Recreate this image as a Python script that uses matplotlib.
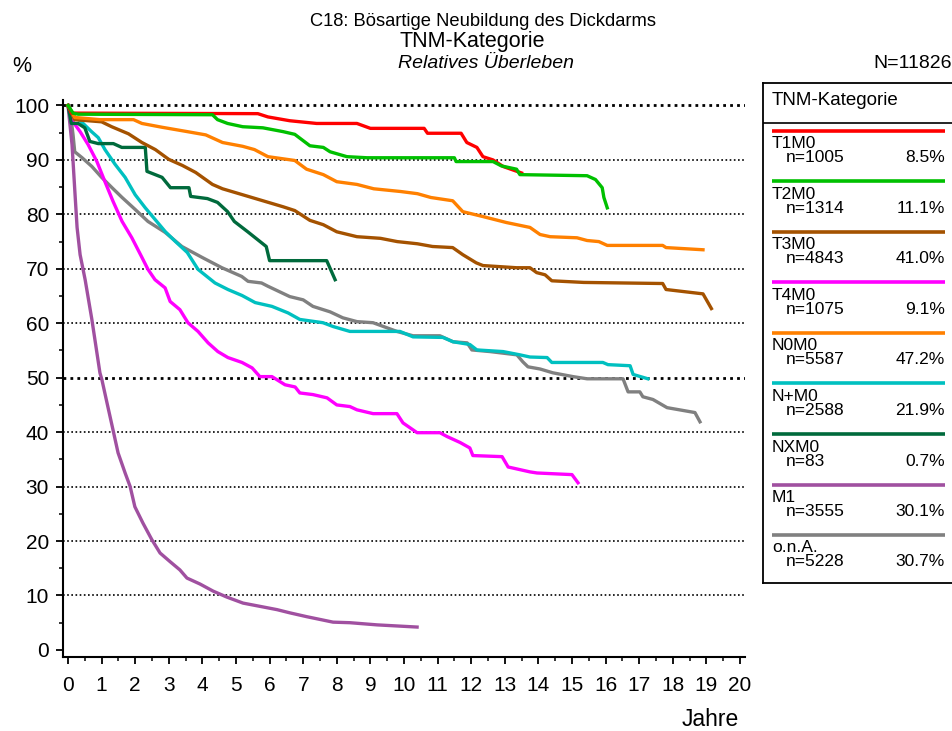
import matplotlib
matplotlib.use("Agg")
import matplotlib.pyplot as plt
from matplotlib.ticker import MultipleLocator

plt.rcParams['font.family'] = ['Liberation Sans', 'DejaVu Sans']

# Relatives Überleben nach TNM-Kategorie (Jahre, Prozent)
t1m0_x = [0, 0.1, 5.65, 5.95, 6.6, 7.4, 8.6, 9.0, 10.6, 10.7, 11.7, 11.87, 12.17, 12.35, 12.65, 12.95, 13.5]
t1m0_y = [100, 98.6, 98.5, 97.9, 97.2, 96.7, 96.7, 95.8, 95.8, 94.9, 94.9, 93.2, 92.3, 90.6, 90.0, 88.8, 87.6]

t2m0_x = [0, 0.15, 0.3, 4.3, 4.45, 4.75, 5.2, 5.8, 6.4, 6.75, 7.2, 7.6, 7.8, 8.3, 8.9, 11.5, 11.55,
          12.65, 12.9, 13.35, 13.45, 15.45, 15.7, 15.9, 15.95, 16.05]
t2m0_y = [100, 98.6, 98.4, 98.3, 97.4, 96.7, 96.1, 95.9, 95.2, 94.7, 92.6, 92.3, 91.5, 90.6, 90.4, 90.4, 89.7,
          89.7, 88.9, 88.3, 87.3, 87.1, 86.4, 84.9, 83.1, 81.2]

t3m0_x = [0, 0.2, 1.0, 1.3, 1.8, 2.2, 2.6, 3.0, 3.4, 3.8, 4.3, 4.6, 5.2, 5.8, 6.4, 6.75, 7.2, 7.6, 8.0,
          8.6, 9.3, 9.8, 10.4, 10.85, 11.45, 11.75, 12.15, 12.35, 13.35, 13.75, 13.95, 14.2, 14.4, 15.35,
          17.7, 17.8, 18.9, 19.15]
t3m0_y = [100, 97.4, 97.0, 96.1, 94.8, 93.2, 91.9, 90.1, 89.0, 87.7, 85.5, 84.7, 83.6, 82.5, 81.4, 80.7, 78.9, 78.1, 76.8,
          75.9, 75.6, 75.0, 74.6, 74.1, 73.9, 72.6, 71.1, 70.6, 70.2, 70.2, 69.3, 68.9, 67.8, 67.5,
          67.3, 66.2, 65.4, 62.7]

t4m0_x = [0, 0.15, 0.36, 0.6, 0.86, 1.1, 1.34, 1.61, 1.9, 2.2, 2.38, 2.59, 2.89, 3.04, 3.33, 3.57, 3.87,
          4.17, 4.46, 4.76, 5.18, 5.48, 5.71, 6.07, 6.46, 6.76, 6.9, 7.29, 7.71, 8.0, 8.39, 8.6, 9.08,
          9.79, 9.97, 10.39, 11.07, 11.28, 11.67, 11.96, 12.05, 12.92, 13.1, 13.75, 13.96, 15.0, 15.18]
t4m0_y = [100, 97.0, 95.2, 92.8, 89.7, 86.0, 82.4, 78.7, 75.7, 72.1, 69.9, 68.0, 66.5, 64.0, 62.5, 60.1, 58.5,
          56.4, 54.8, 53.7, 52.8, 51.8, 50.2, 50.2, 48.7, 48.3, 47.2, 46.9, 46.3, 45.0, 44.7, 44.1, 43.4,
          43.4, 41.7, 39.9, 39.9, 39.2, 38.1, 37.1, 35.7, 35.5, 33.6, 32.7, 32.5, 32.2, 30.7]

n0m0_x = [0, 0.2, 0.95, 1.95, 2.2, 2.8, 3.55, 4.1, 4.6, 5.2, 5.55, 5.95, 6.75, 7.1, 7.6, 8.0, 8.6, 9.1,
          9.9, 10.4, 10.8, 11.45, 11.75, 12.35, 13.05, 13.75, 14.05, 14.35, 15.15, 15.45, 15.8, 16.05,
          17.7, 17.8, 18.9]
n0m0_y = [100, 97.8, 97.4, 97.4, 96.7, 96.0, 95.2, 94.6, 93.2, 92.5, 91.9, 90.6, 89.9, 88.3, 87.3, 86.0, 85.5, 84.7,
          84.2, 83.8, 83.1, 82.5, 80.5, 79.6, 78.5, 77.6, 76.3, 75.9, 75.7, 75.2, 75.0, 74.3,
          74.3, 73.9, 73.5]

npm0_x = [0, 0.2, 0.4, 0.7, 0.9, 1.1, 1.4, 1.7, 2.0, 2.3, 2.6, 2.9, 3.2, 3.55, 3.87, 4.375, 4.76, 5.18,
          5.57, 6.07, 6.55, 6.9, 7.59, 7.89, 8.39, 9.88, 10.27, 11.16, 11.46, 11.96, 12.17, 12.95, 13.45,
          13.75, 14.26, 14.4, 15.92, 16.07, 16.73, 16.82, 17.26]
npm0_y = [100, 97.9, 97.0, 95.2, 94.1, 91.9, 89.2, 86.8, 83.6, 81.2, 79.0, 76.8, 75.0, 73.0, 69.9, 67.4, 66.2, 65.1,
          63.8, 63.1, 61.9, 60.7, 60.1, 59.4, 58.5, 58.5, 57.5, 57.4, 56.6, 56.1, 55.1, 54.8, 54.2,
          53.8, 53.7, 52.8, 52.8, 52.4, 52.2, 50.6, 49.8]

nxm0_x = [0, 0.1, 0.3, 0.5, 0.65, 0.9, 1.35, 1.6, 2.3, 2.35, 2.8, 3.05, 3.6, 3.65, 4.15, 4.45, 4.75, 4.95,
          5.35, 5.9, 6.0, 7.7, 7.95]
nxm0_y = [100, 96.7, 96.7, 95.9, 93.4, 93.0, 93.0, 92.3, 92.3, 87.9, 86.8, 84.9, 84.9, 83.3, 82.9, 82.2, 80.5, 78.7,
          76.8, 74.1, 71.5, 71.5, 68.0]

m1_x = [0, 0.12, 0.21, 0.27, 0.36, 0.51, 0.71, 0.95, 1.01, 1.16, 1.34, 1.49, 1.7, 1.85, 1.99, 2.23, 2.5,
        2.74, 3.04, 3.33, 3.54, 3.93, 4.32, 4.73, 5.21, 5.8, 6.22, 6.61, 7.11, 7.89, 8.39, 9.2, 10.39]
m1_y = [100, 92.8, 83.6, 77.6, 72.6, 68.0, 60.7, 50.9, 49.6, 45.4, 40.4, 36.2, 32.5, 30.0, 26.3, 23.3, 20.2,
        17.8, 16.2, 14.7, 13.2, 12.1, 10.8, 9.7, 8.6, 7.9, 7.4, 6.8, 6.1, 5.1, 5.0, 4.6, 4.2]

ona_x = [0, 0.05, 0.15, 0.2, 0.42, 0.71, 1.0, 1.31, 1.61, 2.0, 2.38, 2.89, 3.39, 3.99, 4.58, 5.17, 5.36,
         5.76, 5.95, 6.6, 7.0, 7.29, 7.8, 8.18, 8.6, 9.08, 9.79, 10.27, 11.07, 11.46, 11.88, 12.02, 12.56,
         13.36, 13.54, 13.69, 14.05, 14.43, 15.03, 15.45, 16.52, 16.67, 17.02, 17.11, 17.41, 17.83, 18.66,
         18.81]
ona_y = [100, 99.6, 94.6, 91.5, 90.4, 88.8, 86.8, 84.9, 83.1, 80.9, 78.7, 76.7, 74.1, 72.1, 70.2, 68.6, 67.7,
         67.4, 66.8, 64.9, 64.3, 63.1, 62.1, 61.0, 60.3, 60.1, 58.5, 57.7, 57.7, 56.6, 56.4, 55.1, 54.8,
         54.2, 52.9, 52.0, 51.6, 50.9, 50.2, 49.8, 49.8, 47.4, 47.4, 46.5, 46.0, 44.5, 43.6,
         41.9]

names = ["T1M0", "T2M0", "T3M0", "T4M0", "N0M0", "N+M0", "NXM0", "M1", "o.n.A."]
counts = [1005, 1314, 4843, 1075, 5587, 2588, 83, 3555, 5228]
shares = ["8.5%", "11.1%", "41.0%", "9.1%", "47.2%", "21.9%", "0.7%", "30.1%", "30.7%"]
colors = ["#ff0000", "#00c000", "#a45200", "#ff00ff", "#ff8000", "#00c0c0", "#006a3c", "#a050a0", "#808080"]
curves = [(t1m0_x, t1m0_y), (t2m0_x, t2m0_y), (t3m0_x, t3m0_y), (t4m0_x, t4m0_y), (n0m0_x, n0m0_y),
          (npm0_x, npm0_y), (nxm0_x, nxm0_y), (m1_x, m1_y), (ona_x, ona_y)]
total_n = 11826

W, H = 952, 731
fig = plt.figure(figsize=(W / 100, H / 100), dpi=100)

# Plot-Bereich in Pixeln: x 63..745, y 99..657
ax = fig.add_axes([63 / W, (H - 657) / H, (745 - 63) / W, (657 - 99.5) / H])
ax.set_xlim(-0.149, 20.15)
ax.set_ylim(-1.3, 101.1)

for yv in range(10, 101, 10):
    lw = 2.0 if yv in (50, 100) else 1.2
    ax.axhline(yv, color="black", lw=lw, ls=(0, (1, 1.5)), zorder=1)

# Reihenfolge: graue/lila Kurven unten, gruen zuletzt
order = [8, 7, 5, 3, 6, 2, 4, 0, 1]
for i in order:
    xs, ys = curves[i]
    ax.plot(xs, ys, color=colors[i], lw=2.4, solid_joinstyle="round", zorder=3)

for s in ("top", "right"):
    ax.spines[s].set_visible(False)
ax.spines["left"].set_linewidth(1.5)
ax.spines["bottom"].set_linewidth(1.5)

ax.xaxis.set_major_locator(MultipleLocator(1))
ax.xaxis.set_minor_locator(MultipleLocator(0.5))
ax.yaxis.set_major_locator(MultipleLocator(10))
ax.yaxis.set_minor_locator(MultipleLocator(5))
ax.tick_params(axis="both", which="major", length=5, width=1.3, labelsize=15, color="black")
ax.tick_params(axis="both", which="minor", length=3, width=1.1)
ax.tick_params(axis="x", which="major", pad=9)
ax.tick_params(axis="y", which="major", pad=5)

# Titel
narrow = ["Liberation Sans Narrow", "Liberation Sans"]
fig.text(483 / W, 1 - 22 / H, "C18: Bösartige Neubildung des Dickdarms", ha="center", va="center",
         fontsize=13.2, family=narrow)
fig.text(472 / W, 1 - 42 / H, "TNM-Kategorie", ha="center", va="center", fontsize=15.5, family=narrow)
fig.text(486 / W, 1 - 63 / H, "Relatives Überleben", ha="center", va="center", fontsize=14,
         style="italic", family=narrow)
fig.text(22 / W, 1 - 66 / H, "%", ha="center", va="center", fontsize=15.5)
fig.text(952 / W, 1 - 64 / H, f"N={total_n}", ha="right", va="center", fontsize=14)
fig.text(710 / W, 1 - 720 / H, "Jahre", ha="center", va="center", fontsize=16.5)

# Legende als eigener Kasten (Koordinaten in Pixeln)
lg = fig.add_axes([763 / W, (H - 583) / H, 200 / W, 500 / H])
lg.set_xlim(763, 963)
lg.set_ylim(583, 83)
lg.set_xticks([])
lg.set_yticks([])
for s in lg.spines.values():
    s.set_linewidth(1.3)
lg.text(772, 101, "TNM-Kategorie", ha="left", va="center", fontsize=13.5)
lg.plot([763, 963], [123, 123], color="black", lw=1.2)
for k, name in enumerate(names):
    y0 = 131 + k * 50.5
    lg.plot([772, 945], [y0, y0], color=colors[k], lw=2.6, solid_capstyle="butt")
    lg.text(772, y0 + 13, name, ha="left", va="center", fontsize=12.5)
    lg.text(786, y0 + 27, f"n={counts[k]}", ha="left", va="center", fontsize=12.5)
    lg.text(945, y0 + 27, shares[k], ha="right", va="center", fontsize=12.5)

fig.savefig("out.png", dpi=100)
